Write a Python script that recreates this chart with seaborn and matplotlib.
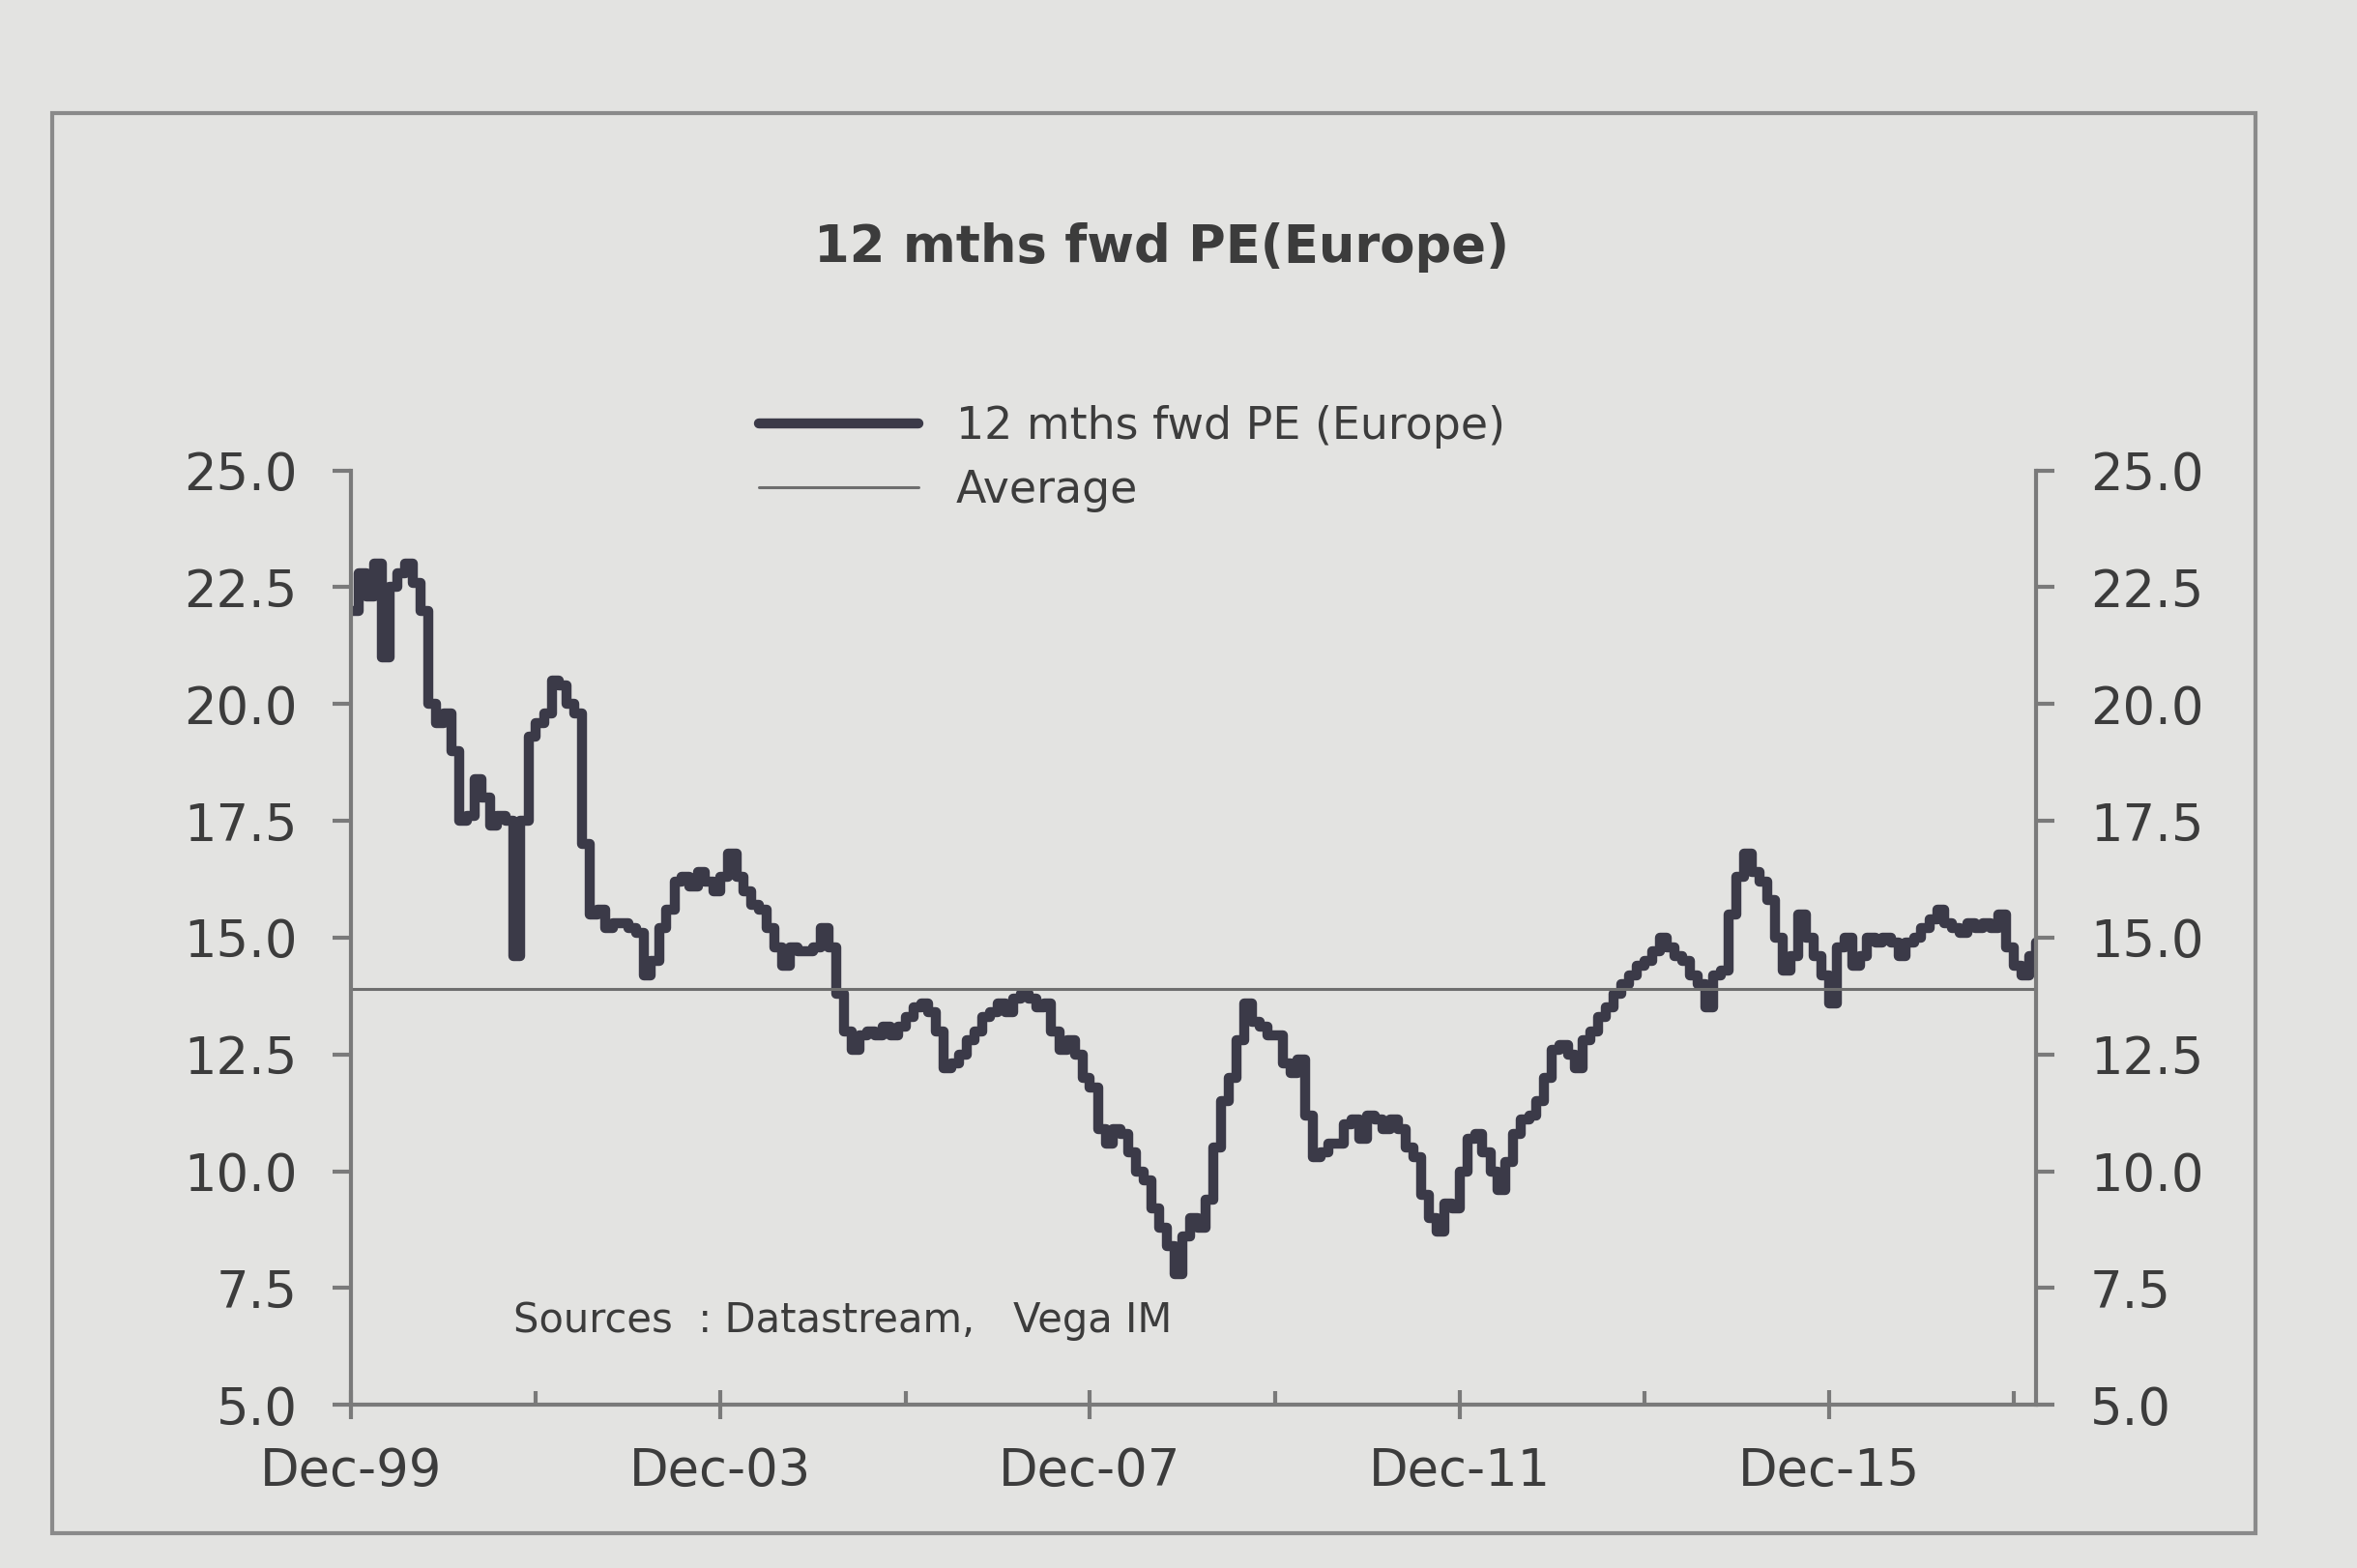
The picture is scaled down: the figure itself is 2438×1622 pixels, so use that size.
import numpy as np
import pandas as pd
import matplotlib
matplotlib.use("Agg")
import matplotlib.pyplot as plt
from matplotlib.lines import Line2D
from matplotlib.patches import Rectangle
import seaborn as sns

# ---------------- data ----------------
start_month = "1999-12"
pe_values = [
    22.0, 22.8, 22.3, 23.0, 21.0, 22.5, 22.8, 23.0, 22.6, 22.0,
    20.0, 19.6, 19.8, 19.0, 17.5, 17.6, 18.4, 18.0, 17.4, 17.6,
    17.5, 14.6, 17.5, 19.3, 19.6, 19.8, 20.5, 20.4, 20.0, 19.8,
    17.0, 15.5, 15.6, 15.2, 15.3, 15.3, 15.2, 15.1, 14.2, 14.5,
    15.2, 15.6, 16.2, 16.3, 16.1, 16.4, 16.2, 16.0, 16.3, 16.8,
    16.3, 16.0, 15.7, 15.6, 15.2, 14.8, 14.4, 14.8, 14.7, 14.7,
    14.8, 15.2, 14.8, 13.8, 13.0, 12.6, 12.9, 13.0, 12.9, 13.1,
    12.9, 13.1, 13.3, 13.5, 13.6, 13.4, 13.0, 12.2, 12.3, 12.5,
    12.8, 13.0, 13.3, 13.4, 13.6, 13.4, 13.7, 13.8, 13.7, 13.5,
    13.6, 13.0, 12.6, 12.8, 12.5, 12.0, 11.8, 10.9, 10.6, 10.9,
    10.8, 10.4, 10.0, 9.8, 9.2, 8.8, 8.4, 7.8, 8.6, 9.0,
    8.8, 9.4, 10.5, 11.5, 12.0, 12.8, 13.6, 13.2, 13.1, 12.9,
    12.9, 12.3, 12.1, 12.4, 11.2, 10.3, 10.4, 10.6, 10.6, 11.0,
    11.1, 10.7, 11.2, 11.1, 10.9, 11.1, 10.9, 10.5, 10.3, 9.5,
    9.0, 8.7, 9.3, 9.2, 10.0, 10.7, 10.8, 10.4, 10.0, 9.6,
    10.2, 10.8, 11.1, 11.2, 11.5, 12.0, 12.6, 12.7, 12.5, 12.2,
    12.8, 13.0, 13.3, 13.5, 13.8, 14.0, 14.2, 14.4, 14.5, 14.7,
    15.0, 14.8, 14.6, 14.5, 14.2, 14.0, 13.5, 14.2, 14.3, 15.5,
    16.3, 16.8, 16.4, 16.2, 15.8, 15.0, 14.3, 14.6, 15.5, 15.0,
    14.6, 14.2, 13.6, 14.8, 15.0, 14.4, 14.6, 15.0, 14.9, 15.0,
    14.9, 14.6, 14.9, 15.0, 15.2, 15.4, 15.6, 15.3, 15.2, 15.1,
    15.3, 15.2, 15.3, 15.2, 15.5, 14.8, 14.4, 14.2, 14.6, 14.9,
]
average_value = 13.9
y_ticks = [5.0, 7.5, 10.0, 12.5, 15.0, 17.5, 20.0, 22.5, 25.0]
x_major_dates = ["1999-12-01", "2003-12-01", "2007-12-01", "2011-12-01", "2015-12-01"]
x_minor_dates = ["2001-12-01", "2005-12-01", "2009-12-01", "2013-12-01", "2017-12-01"]
x_tick_labels = ["Dec-99", "Dec-03", "Dec-07", "Dec-11", "Dec-15"]
title_text = "12 mths fwd PE(Europe)"
series_label = "12 mths fwd PE (Europe)"
average_label = "Average"
source_text = "Sources  : Datastream,   Vega IM"

dates = pd.date_range(start=start_month, periods=len(pe_values), freq="MS")
df = pd.DataFrame({"date": dates, "pe": pe_values})

# ---------------- style ----------------
sns.set_theme(style="white")
plt.rcParams["font.family"] = ["DejaVu Sans"]
paper = "#e3e3e1"
ink = "#3c3c3c"
line_col = "#3b3a48"
axis_col = "#7a7a7a"

fig = plt.figure(figsize=(24.38, 16.22), dpi=100, facecolor=paper)
ax = fig.add_axes([0.149, 0.104, 0.715, 0.596])
ax.set_facecolor(paper)

sns.lineplot(data=df, x="date", y="pe", ax=ax, color=line_col,
             linewidth=7.5, drawstyle="steps-post", legend=False)
ax.axhline(average_value, color="#6e6e6e", linewidth=2.2)

ax.set_ylim(5.0, 25.0)
ax.set_xlim(pd.Timestamp("1999-12-01"), pd.Timestamp("2018-03-01"))
ax.set_xlabel("")
ax.set_ylabel("")

ax.set_yticks(y_ticks)
ax.set_yticklabels([f"{v:.1f}" for v in y_ticks])
ax.set_xticks(pd.to_datetime(x_major_dates))
ax.set_xticklabels(x_tick_labels)
ax.set_xticks(pd.to_datetime(x_minor_dates), minor=True)

for s in ["top", "right"]:
    ax.spines[s].set_visible(False)
for s in ["left", "bottom"]:
    ax.spines[s].set_color(axis_col)
    ax.spines[s].set_linewidth(3)

ax.tick_params(axis="y", which="major", direction="out", length=14, width=3,
               color=axis_col, labelsize=38, labelcolor=ink, pad=26, left=True)
ax.tick_params(axis="x", which="major", direction="inout", length=22, width=3,
               color=axis_col, labelsize=38, labelcolor=ink, pad=20, bottom=True)
ax.tick_params(axis="x", which="minor", direction="in", length=10, width=3,
               color=axis_col, bottom=True)

ax2 = ax.twinx()
ax2.set_ylim(5.0, 25.0)
ax2.set_yticks(y_ticks)
ax2.set_yticklabels([f"{v:.1f}" for v in y_ticks])
for s in ["top", "left", "bottom"]:
    ax2.spines[s].set_visible(False)
ax2.spines["right"].set_color(axis_col)
ax2.spines["right"].set_linewidth(3)
ax2.tick_params(axis="y", which="major", direction="out", length=14, width=3,
                color=axis_col, labelsize=38, labelcolor=ink, pad=26, right=True)
ax2.grid(False)
ax.grid(False)

# title
fig.text(0.493, 0.842, title_text, ha="center", va="center",
         fontsize=38, fontweight="bold", color=ink)

# legend
handles = [Line2D([], [], color=line_col, linewidth=7.5),
           Line2D([], [], color="#6e6e6e", linewidth=2.2)]
leg = fig.legend(handles, [series_label, average_label], loc="upper left",
                 bbox_to_anchor=(0.305, 0.767), frameon=False, fontsize=33,
                 handlelength=3.6, handletextpad=0.85, labelspacing=0.45,
                 labelcolor=ink)

# source note
ax.text(0.096, 0.09, source_text, transform=ax.transAxes, fontsize=30,
        color=ink, ha="left", va="center")

# outer frame
fig.patches.append(Rectangle((0.022, 0.022), 0.935, 0.906, transform=fig.transFigure,
                             fill=False, edgecolor="#8a8a8a", linewidth=3))

fig.savefig("out.png", dpi=100, facecolor=paper)
